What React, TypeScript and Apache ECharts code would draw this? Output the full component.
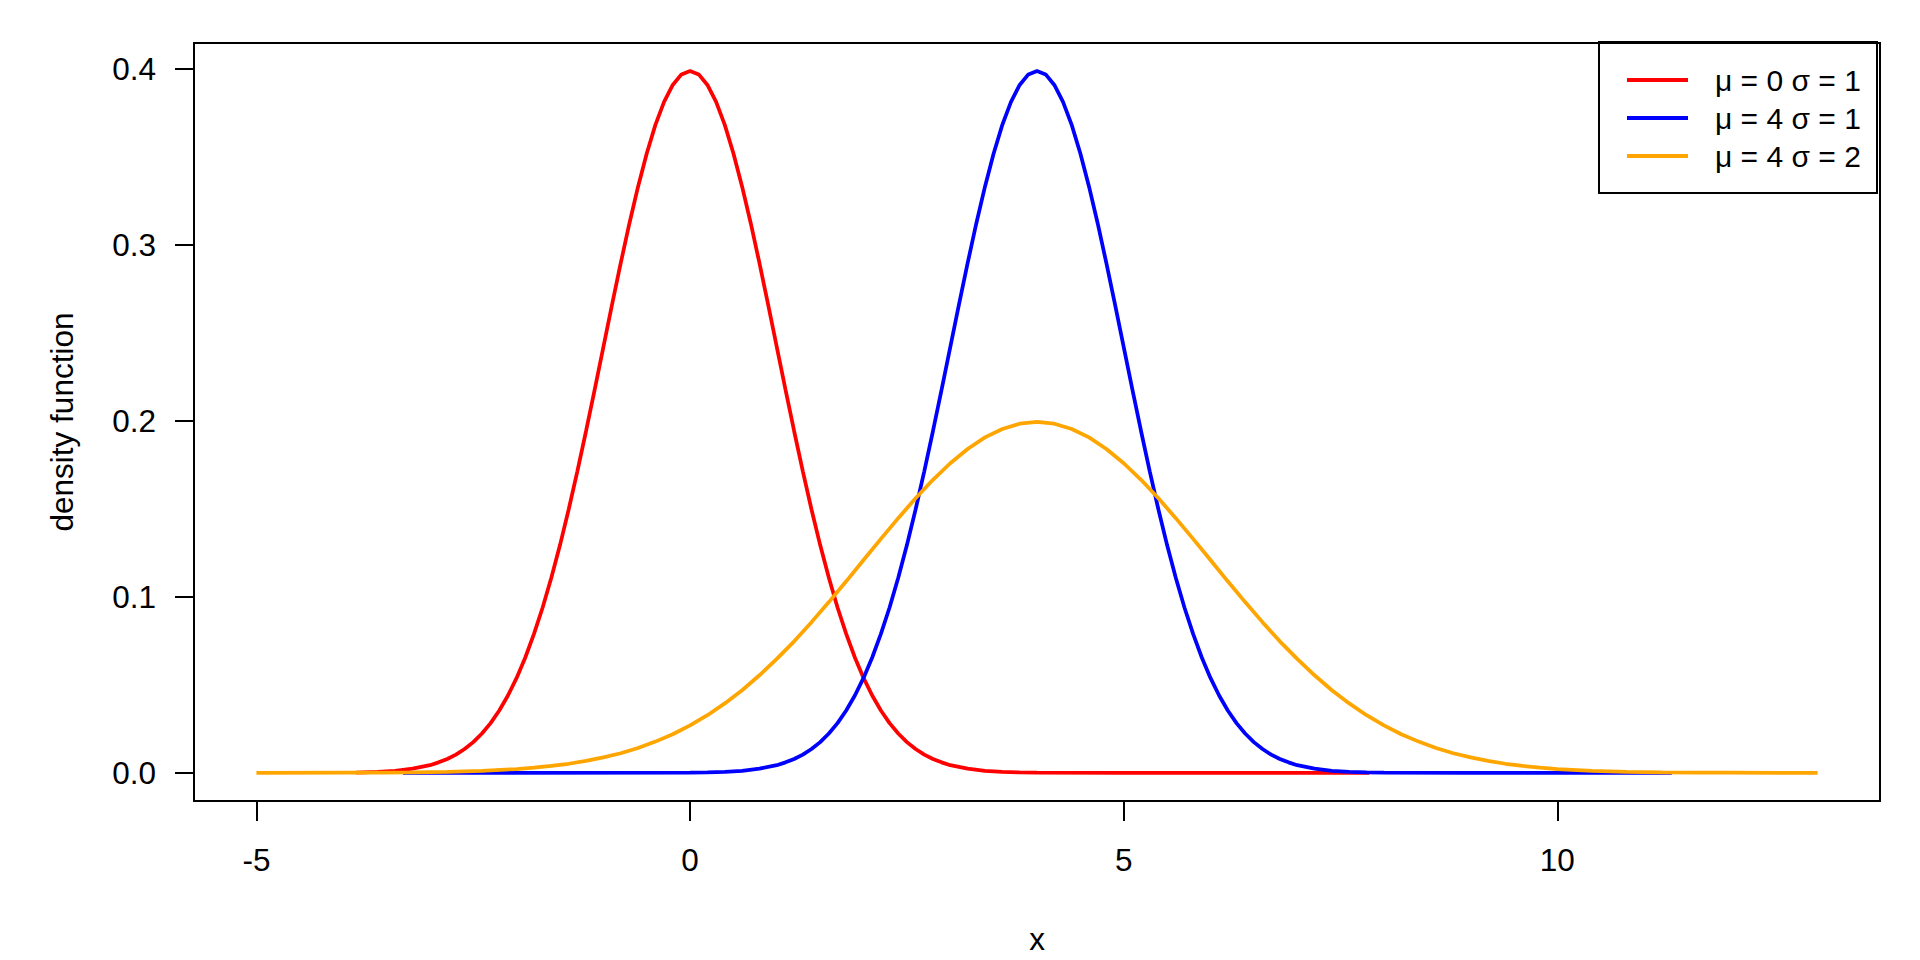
import React, { useEffect, useRef } from "react";
import * as echarts from "echarts";

// mu = 0, sigma = 1
const redX = [-3.85, -3.6, -3.4, -3.2, -3.0, -2.9, -2.8, -2.7, -2.6, -2.5, -2.4, -2.3, -2.2, -2.1, -2.0, -1.9, -1.8, -1.7, -1.6, -1.5, -1.4, -1.3, -1.2, -1.1, -1.0, -0.9, -0.8, -0.7, -0.6, -0.5, -0.4, -0.3, -0.2, -0.1, 0, 0.1, 0.2, 0.3, 0.4, 0.5, 0.6, 0.7, 0.8, 0.9, 1.0, 1.1, 1.2, 1.3, 1.4, 1.5, 1.6, 1.7, 1.8, 1.9, 2.0, 2.1, 2.2, 2.3, 2.4, 2.5, 2.6, 2.7, 2.8, 2.9, 3.0, 3.2, 3.4, 3.6, 3.8, 4.0, 5.0, 6.0, 7.83];
const redY = [0.0002, 0.0006, 0.0012, 0.0024, 0.0044, 0.006, 0.0079, 0.0104, 0.0136, 0.0175, 0.0224, 0.0283, 0.0355, 0.044, 0.054, 0.0656, 0.079, 0.094, 0.1109, 0.1295, 0.1497, 0.1714, 0.1942, 0.2179, 0.242, 0.2661, 0.2897, 0.3123, 0.3332, 0.3521, 0.3683, 0.3814, 0.391, 0.397, 0.3989, 0.397, 0.391, 0.3814, 0.3683, 0.3521, 0.3332, 0.3123, 0.2897, 0.2661, 0.242, 0.2179, 0.1942, 0.1714, 0.1497, 0.1295, 0.1109, 0.094, 0.079, 0.0656, 0.054, 0.044, 0.0355, 0.0283, 0.0224, 0.0175, 0.0136, 0.0104, 0.0079, 0.006, 0.0044, 0.0024, 0.0012, 0.0006, 0.0003, 0.0001, 0, 0, 0];

// mu = 4, sigma = 1
const blueX = [-3.31, 0, 0.2, 0.4, 0.6, 0.8, 1.0, 1.1, 1.2, 1.3, 1.4, 1.5, 1.6, 1.7, 1.8, 1.9, 2.0, 2.1, 2.2, 2.3, 2.4, 2.5, 2.6, 2.7, 2.8, 2.9, 3.0, 3.1, 3.2, 3.3, 3.4, 3.5, 3.6, 3.7, 3.8, 3.9, 4.0, 4.1, 4.2, 4.3, 4.4, 4.5, 4.6, 4.7, 4.8, 4.9, 5.0, 5.1, 5.2, 5.3, 5.4, 5.5, 5.6, 5.7, 5.8, 5.9, 6.0, 6.1, 6.2, 6.3, 6.4, 6.5, 6.6, 6.7, 6.8, 6.9, 7.0, 7.2, 7.4, 7.6, 7.8, 8.0, 9, 10, 11.32];
const blueY = [0, 0.0001, 0.0003, 0.0006, 0.0012, 0.0024, 0.0044, 0.006, 0.0079, 0.0104, 0.0136, 0.0175, 0.0224, 0.0283, 0.0355, 0.044, 0.054, 0.0656, 0.079, 0.094, 0.1109, 0.1295, 0.1497, 0.1714, 0.1942, 0.2179, 0.242, 0.2661, 0.2897, 0.3123, 0.3332, 0.3521, 0.3683, 0.3814, 0.391, 0.397, 0.3989, 0.397, 0.391, 0.3814, 0.3683, 0.3521, 0.3332, 0.3123, 0.2897, 0.2661, 0.242, 0.2179, 0.1942, 0.1714, 0.1497, 0.1295, 0.1109, 0.094, 0.079, 0.0656, 0.054, 0.044, 0.0355, 0.0283, 0.0224, 0.0175, 0.0136, 0.0104, 0.0079, 0.006, 0.0044, 0.0024, 0.0012, 0.0006, 0.0003, 0.0001, 0, 0, 0];

// mu = 4, sigma = 2
const orangeX = [-5, -4, -3.6, -3.2, -2.8, -2.4, -2, -1.8, -1.6, -1.4, -1.2, -1, -0.8, -0.6, -0.4, -0.2, 0, 0.2, 0.4, 0.6, 0.8, 1, 1.2, 1.4, 1.6, 1.8, 2, 2.2, 2.4, 2.6, 2.8, 3, 3.2, 3.4, 3.6, 3.8, 4, 4.2, 4.4, 4.6, 4.8, 5, 5.2, 5.4, 5.6, 5.8, 6, 6.2, 6.4, 6.6, 6.8, 7, 7.2, 7.4, 7.6, 7.8, 8, 8.2, 8.4, 8.6, 8.8, 9, 9.2, 9.4, 9.6, 9.8, 10, 10.4, 10.8, 11.2, 11.6, 12, 13];
const orangeY = [0, 0.0001, 0.0001, 0.0003, 0.0006, 0.0012, 0.0022, 0.003, 0.004, 0.0052, 0.0068, 0.0088, 0.0112, 0.0142, 0.0178, 0.022, 0.027, 0.0328, 0.0395, 0.047, 0.0555, 0.0648, 0.0748, 0.0857, 0.0971, 0.1089, 0.121, 0.133, 0.1448, 0.1561, 0.1666, 0.176, 0.1841, 0.1907, 0.1955, 0.1985, 0.1995, 0.1985, 0.1955, 0.1907, 0.1841, 0.176, 0.1666, 0.1561, 0.1448, 0.133, 0.121, 0.1089, 0.0971, 0.0857, 0.0748, 0.0648, 0.0555, 0.047, 0.0395, 0.0328, 0.027, 0.022, 0.0178, 0.0142, 0.0112, 0.0088, 0.0068, 0.0052, 0.004, 0.003, 0.0022, 0.0012, 0.0006, 0.0003, 0.0001, 0.0001, 0];

const seriesNames = ["μ = 0 σ = 1", "μ = 4 σ = 1", "μ = 4 σ = 2"];
const seriesColors = ["#FF0000", "#0000FF", "#FFA500"];
const xTicks = [-5, 0, 5, 10];
const yTicks = [0, 0.1, 0.2, 0.3, 0.4];

const FONT = "'Liberation Sans', Arial, sans-serif";
const FS = 31.5;

export default function App() {
  const ref = useRef<HTMLDivElement>(null);
  useEffect(() => {
    if (!ref.current) return;
    const chart = echarts.init(ref.current, null, { renderer: "svg" });
    const pairs = (xs: number[], ys: number[]) => xs.map((x, i) => [x, ys[i]]);
    const data = [pairs(redX, redY), pairs(blueX, blueY), pairs(orangeX, orangeY)];
    chart.setOption({
      animation: false,
      backgroundColor: "#FFFFFF",
      textStyle: { fontFamily: FONT },
      grid: {
        left: 194,
        right: 40,
        top: 43,
        bottom: 158,
        show: true,
        borderColor: "#000",
        borderWidth: 2,
        backgroundColor: "transparent",
      },
      legend: {
        orient: "vertical",
        left: 1599,
        top: 42,
        padding: [23, 15, 22, 28],
        itemGap: 8,
        itemWidth: 61,
        itemHeight: 4,
        icon: "rect",
        borderColor: "#000",
        borderWidth: 2,
        borderRadius: 0,
        data: seriesNames,
        textStyle: {
          fontFamily: FONT,
          fontSize: 30,
          color: "#000",
          padding: [0, 0, 0, 22],
          width: 147,
          lineHeight: 30,
        },
      },
      xAxis: {
        type: "value",
        min: -5.72,
        max: 13.72,
        name: "x",
        nameLocation: "middle",
        nameGap: 122,
        nameTextStyle: { fontFamily: FONT, fontSize: FS, color: "#000" },
        axisLine: { show: false, onZero: false },
        splitLine: { show: false },
        axisTick: {
          show: true,
          inside: false,
          length: 20,
          customValues: xTicks,
          lineStyle: { color: "#000", width: 2 },
        },
        axisLabel: {
          show: true,
          customValues: xTicks,
          margin: 43,
          fontFamily: FONT,
          fontSize: FS,
          color: "#000",
        },
      },
      yAxis: {
        type: "value",
        min: -0.01596,
        max: 0.41486,
        name: "density function",
        nameLocation: "middle",
        nameGap: 116,
        nameRotate: 90,
        nameTextStyle: { fontFamily: FONT, fontSize: FS, color: "#000" },
        axisLine: { show: false, onZero: false },
        splitLine: { show: false },
        axisTick: {
          show: true,
          inside: false,
          length: 19,
          customValues: yTicks,
          lineStyle: { color: "#000", width: 2 },
        },
        axisLabel: {
          show: true,
          customValues: yTicks,
          margin: 38,
          fontFamily: FONT,
          fontSize: FS,
          color: "#000",
          formatter: (v: number) => v.toFixed(1),
        },
      },
      series: seriesNames.map((name, i) => ({
        name,
        type: "line",
        data: data[i],
        symbol: "none",
        showSymbol: false,
        smooth: false,
        color: seriesColors[i],
        lineStyle: { color: seriesColors[i], width: 3.75 },
        itemStyle: { color: seriesColors[i] },
        z: 2 + i,
      })),
    });
    return () => chart.dispose();
  }, []);
  return (
    <div
      ref={ref}
      style={{ position: "absolute", left: 0, top: 0, width: 1920, height: 960 }}
    />
  );
}
